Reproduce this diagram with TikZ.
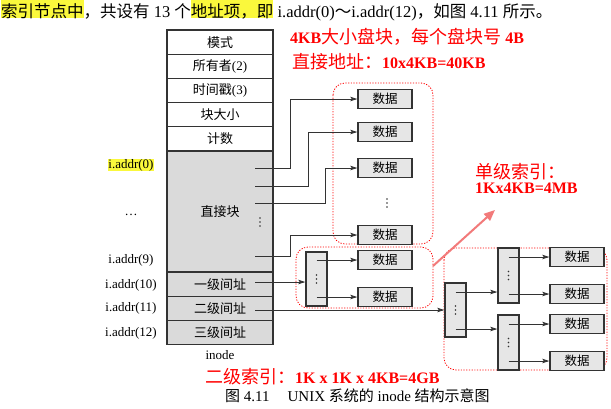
\documentclass[tikz,border=0pt]{standalone}
\usepackage{fontspec}
\setmainfont{Liberation Serif}
\newfontfamily\cjk{Noto Sans CJK SC}
\usetikzlibrary{arrows.meta,positioning}

\definecolor{cellgray}{HTML}{DADADA}
\definecolor{boxgray}{HTML}{E6E6E6}
\definecolor{linegray}{HTML}{333333}
\definecolor{notered}{HTML}{FF0000}
\definecolor{arrowred}{HTML}{F27A7A}
\definecolor{hly}{HTML}{FAF83C}

\newcommand{\hilite}[1]{{\setlength{\fboxsep}{0pt}\colorbox{hly}{\rule[-0.5pt]{0pt}{18pt}\smash{#1}}}}
\newcommand{\redcjk}[1]{{\fontsize{18}{20}\selectfont\cjk\mdseries #1}}

\tikzset{
  cell/.style={draw=linegray, line width=1.1pt, minimum width=106pt, minimum height=24.2pt, inner sep=0pt, font=\fontsize{13}{15}\selectfont},
  datbox/.style={draw=linegray, line width=1.4pt, fill=boxgray, minimum width=54pt, minimum height=19.5pt, inner sep=0pt, font=\fontsize{12.5}{14}\selectfont\cjk},
  idxbox/.style={draw=linegray, line width=1.4pt, fill=boxgray, minimum width=21pt, minimum height=54pt, inner sep=0pt},
  link/.style={draw=linegray, line width=0.8pt, -{Stealth[length=7pt, width=4.5pt, inset=1.5pt]}},
  redbox/.style={draw=notered, line width=0.8pt, dash pattern=on 1.2pt off 1.5pt, rounded corners=12pt},
  addr/.style={font=\fontsize{13}{15}\selectfont, inner sep=0pt},
  note/.style={text=notered, font=\fontsize{16}{20}\selectfont\bfseries, anchor=west, inner sep=0pt}
}

\begin{document}
\begin{tikzpicture}[x=1pt, y=-1pt]

    \fill[white] (0,0) rectangle (611,408);
    \useasboundingbox (0,0) rectangle (611,408);

    % Line of body text above the figure
    \node[anchor=base west, inner sep=0pt, font=\fontsize{16.5}{20}\selectfont] (intro) at (1,17)
        {\hilite{\cjk 索引节点中}{\cjk ，共设有} 13 {\cjk 个}\hilite{\cjk 地址项，即} i.addr(0){\cjk ～}i.addr(12){\cjk ，如图} 4.11 {\cjk 所示。}};

    % Dotted groups
    \draw[redbox] (333,83) rectangle (433,244);
    \draw[redbox] (296,247) rectangle (433,308);
    \draw[redbox] (444,248) rectangle (607,370);

    % The inode
    \foreach \n/\t [count=\i from 0] in {
        mode/{\cjk 模式},
        owner/{{\cjk 所有者}(2)},
        stamp/{{\cjk 时间戳}(3)},
        size/{\cjk 块大小},
        count/{\cjk 计数}
    } {
        \node[cell] (\n) at (220, 42.1+24.2*\i) {\t};
    }
    \node[cell, fill=cellgray, minimum height=121pt] (direct) at (220,211.5) {\cjk 直接块};
    \node[cell, fill=cellgray] (single) at (220,284.4) {\cjk 一级间址};
    \node[cell, fill=cellgray] (double) at (220,308.6) {\cjk 二级间址};
    \node[cell, fill=cellgray] (triple) at (220,332.8) {\cjk 三级间址};
    \node[addr] (inode) at (220,355) {inode};

    % Address labels
    \node[addr, fill=hly, inner sep=0.5pt] (a0) at (131,165) {i.addr(0)};
    \foreach \n/\t/\y in {
        amid/\ldots/215,
        a9/i.addr(9)/260,
        a10/i.addr(10)/285,
        a11/i.addr(11)/308,
        a12/i.addr(12)/333
    } {
        \node[addr] (\n) at (131,\y) {\t};
    }

    % Direct blocks
    \foreach \n/\y in {dat0/99, dat1/132, dat2/168, dat9/235} {
        \node[datbox] (\n) at (385,\y) {数据};
    }
    \coordinate (d0) at (255,168);
    \coordinate (d1) at (255,186);
    \coordinate (d2) at (255,203);
    \coordinate (d9) at (255,256);
    \draw[link] (d0) -- ++(35,0) |- (dat0);
    \draw[link] (d1) -- ++(53,0) |- (dat1);
    \draw[link] (d2) -- ++(70,0) |- (dat2);
    \draw[link] (d9) -- ++(35,0) |- (dat9);

    % Single indirect
    \node[idxbox] (ind1) at (316.5,279) {};
    \node[datbox] (dat10a) at (385,260) {数据};
    \node[datbox] (dat10b) at (385,297) {数据};
    \coordinate (d10) at (255,282);
    \draw[link] (d10) -- (d10 -| ind1.west);
    \draw[link] (ind1 |- dat10a) -- (dat10a);
    \draw[link] (ind1 |- dat10b) -- (dat10b);

    % Double indirect
    \node[idxbox] (ind2) at (455.5,310) {};
    \node[idxbox, minimum height=55pt] (ind21) at (508.5,275.5) {};
    \node[idxbox, minimum height=55pt] (ind22) at (508.5,342.5) {};
    \foreach \n/\y in {dat21a/257, dat21b/294, dat22a/324, dat22b/361} {
        \node[datbox] (\n) at (577,\y) {数据};
    }
    \coordinate (d11) at (255,310);
    \draw[link] (d11) -- (ind2);
    \draw[link] ([yshift=18pt]ind2.center) coordinate (t1) -- (t1 -| ind21.west);
    \draw[link] ([yshift=-19pt]ind2.center) coordinate (t2) -- (t2 -| ind22.west);
    \draw[link] (ind21 |- dat21a) -- (dat21a);
    \draw[link] (ind21 |- dat21b) -- (dat21b);
    \draw[link] (ind22 |- dat22a) -- (dat22a);
    \draw[link] (ind22 |- dat22b) -- (dat22b);

    % Vertical dots
    \coordinate (directdots) at (260,222);
    \coordinate (datdots) at (387,203);
    \foreach \p in {directdots, datdots, ind1, ind2, ind21, ind22} {
        \foreach \k in {-4,0,4} {
            \fill[linegray] ([yshift=\k pt]\p) circle (0.8pt);
        }
    }

    % Notes in red
    \node[note] (blocknote) at (290,37) {4KB\redcjk{大小盘块，每个盘块号} 4B};
    \node[note] (directnote) at (292,62) {\redcjk{直接地址：}10x4KB=40KB};
    \node[note] (singlenote) at (475,172) {\redcjk{单级索引：}};
    \node[note] (singlecalc) at (475,188) {1Kx4KB=4MB};
    \node[note] (doublenote) at (205,377) {\redcjk{二级索引：}1K x 1K x 4KB=4GB};
    \coordinate (singletail) at (433,266);
    \coordinate (singlehead) at (495,210);
    \draw[arrowred, line width=2pt, -{Triangle[length=11pt, width=9pt]}] (singletail) -- (singlehead);

    % Caption
    \node[anchor=west, inner sep=0pt, font=\fontsize{15}{18}\selectfont] (caption) at (225,396)
        {{\cjk 图} 4.11\hspace{1.2em}UNIX {\cjk 系统的} inode {\cjk 结构示意图}};

\end{tikzpicture}
\end{document}
